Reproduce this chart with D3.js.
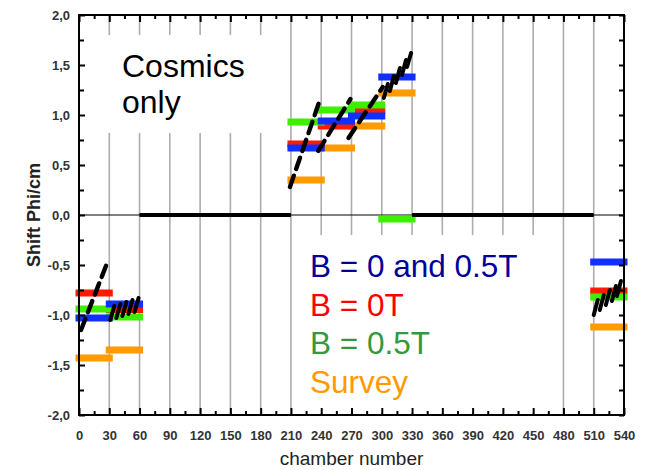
<!DOCTYPE html>
<html>
<head>
<meta charset="utf-8">
<script src="https://cdn.jsdelivr.net/npm/d3@7"></script>
<style>
  html, body { margin: 0; padding: 0; background: #fff; }
  svg { display: block; font-family: "Liberation Sans", Arial, sans-serif; }
</style>
</head>
<body>
<svg id="chart" width="648" height="470"></svg>
<script>
// ---- data ---------------------------------------------------------------
// chamber sectors (30 chambers each) that carry alignment results
const sectorStarts  = [0, 30, 210, 240, 270, 300, 510];
const sectorWidth   = 30;
const blueValues    = [-1.03, -0.89, 0.67, 0.94, 0.99, 1.38, -0.47];   // B = 0 and 0.5T
const redValues     = [-0.78, -0.945, 0.71, 0.89, 1.04, null, -0.76];  // B = 0T
const greenValues   = [-0.94, -1.02, 0.93, 1.05, 1.10, -0.04, -0.82];  // B = 0.5T
const surveyValues  = [-1.43, -1.35, 0.35, 0.67, 0.89, 1.22, -1.12];   // Survey

// cosmics-only shifts: chamber runs sitting at zero
const zeroRuns = [[60, 210], [330, 510]];
// cosmics-only shifts: sloped runs [chamberStart, shiftStart, chamberEnd, shiftEnd]
const slopeRuns = [
  [2, -1.15, 29, -0.45],
  [209, 0.28, 239, 1.16],
  [237, 0.64, 269, 1.16],
  [267, 0.77, 301, 1.28]
];
// cosmics-only shifts: short per-chamber strokes [chamberStart, shiftStart, chamberEnd, shiftEnd]
const strokeRuns = [
  [31, -1.05, 35, -0.91], [37, -1.03, 41, -0.89], [43, -1.01, 47, -0.87],
  [49, -0.99, 53, -0.85], [55, -0.97, 59, -0.83],
  [302, 1.17, 306, 1.31], [308, 1.24, 312, 1.39], [314, 1.32, 318, 1.47],
  [320, 1.40, 324, 1.55], [325, 1.48, 329, 1.62],
  [510, -1.00, 514, -0.85], [516, -0.95, 520, -0.80], [522, -0.90, 526, -0.75],
  [528, -0.86, 532, -0.71], [533, -0.81, 537, -0.66]
];

// axis ticks
const xTickValues = [0, 30, 60, 90, 120, 150, 180, 210, 240, 270, 300, 330, 360, 390, 420, 450, 480, 510, 540];
const xMinorTicks = [15, 45, 75, 105, 135, 165, 195, 225, 255, 285, 315, 345, 375, 405, 435, 465, 495, 525];
const yTickValues = [-2, -1.5, -1, -0.5, 0, 0.5, 1, 1.5, 2];
const yMinorTicks = [-1.75, -1.25, -0.75, -0.25, 0.25, 0.75, 1.25, 1.75];

const legendItems = [
  { label: "B = 0 and 0.5T", color: "#000099" },
  { label: "B = 0T",          color: "#ff0000" },
  { label: "B = 0.5T",        color: "#33993a" },
  { label: "Survey",          color: "#ff9900" }
];

// bar series drawn bottom to top
const barSeries = [
  { values: surveyValues, color: "#ff9a00" },
  { values: redValues,    color: "#ff1a00" },
  { values: greenValues,  color: "#3cf000" },
  { values: blueValues,   color: "#1030ff" }
];

// ---- layout -------------------------------------------------------------
const plotLeft = 79, plotRight = 624, plotTop = 15, plotBottom = 415;
const x = d3.scaleLinear().domain([0, 540]).range([plotLeft, plotRight]);
const y = d3.scaleLinear().domain([-2, 2]).range([plotBottom, plotTop]);

const svg = d3.select("#chart");

// vertical grid lines every 30 chambers
svg.append("g").selectAll("line")
  .data(xTickValues.slice(1, -1))
  .join("line")
  .attr("x1", d => x(d)).attr("x2", d => x(d))
  .attr("y1", plotTop).attr("y2", plotBottom)
  .attr("stroke", "#adadad").attr("stroke-width", 1.6);

// white panels behind the annotation texts
svg.append("rect").attr("x", 82).attr("y", 35).attr("width", 204).attr("height", 98).attr("fill", "#fff");
svg.append("rect").attr("x", 293).attr("y", 235).attr("width", 268).attr("height", 178).attr("fill", "#fff");

// zero reference line
svg.append("line")
  .attr("x1", plotLeft).attr("x2", plotRight)
  .attr("y1", y(0)).attr("y2", y(0))
  .attr("stroke", "#000").attr("stroke-width", 1.2);

// sector bars
barSeries.forEach(s => {
  svg.append("g").selectAll("line")
    .data(sectorStarts.map((c, i) => ({ c, v: s.values[i] })).filter(d => d.v != null))
    .join("line")
    .attr("x1", d => x(d.c)).attr("x2", d => x(d.c + sectorWidth))
    .attr("y1", d => y(d.v)).attr("y2", d => y(d.v))
    .attr("stroke", s.color).attr("stroke-width", 7).attr("stroke-linecap", "square");
});

// cosmics-only shifts
const cosmics = svg.append("g").attr("stroke", "#000").attr("fill", "none");
cosmics.selectAll("line.zero")
  .data(zeroRuns).join("line").attr("class", "zero")
  .attr("x1", d => x(d[0])).attr("x2", d => x(d[1]))
  .attr("y1", y(0)).attr("y2", y(0))
  .attr("stroke-width", 4);
cosmics.selectAll("line.slope")
  .data(slopeRuns).join("line").attr("class", "slope")
  .attr("x1", d => x(d[0])).attr("y1", d => y(d[1]))
  .attr("x2", d => x(d[2])).attr("y2", d => y(d[3]))
  .attr("stroke-width", 4.4).attr("stroke-linecap", "round")
  .attr("stroke-dasharray", "12,7");
cosmics.selectAll("line.stroke")
  .data(strokeRuns).join("line").attr("class", "stroke")
  .attr("x1", d => x(d[0])).attr("y1", d => y(d[1]))
  .attr("x2", d => x(d[2])).attr("y2", d => y(d[3]))
  .attr("stroke-width", 4).attr("stroke-linecap", "round");

// ---- axes ---------------------------------------------------------------
const fmt = d => d3.format(".1f")(d).replace(".", ",").replace("\u2212", "-");

function styleAxis(g) {
  g.select(".domain").remove();
  g.selectAll(".tick line").attr("stroke", "#000").attr("stroke-width", 2);
  g.selectAll(".tick text")
    .attr("fill", "#333").attr("font-weight", "bold").attr("font-size", 13)
    .attr("font-family", "'Liberation Sans', Arial, sans-serif");
}

svg.append("g").attr("transform", `translate(${plotLeft},0)`)
  .call(d3.axisLeft(y).tickValues(yTickValues).tickSize(-6).tickPadding(9).tickFormat(fmt))
  .call(styleAxis);
svg.append("g").attr("transform", `translate(${plotLeft},0)`)
  .call(d3.axisLeft(y).tickValues(yMinorTicks).tickSize(-5).tickFormat(""))
  .call(styleAxis);
svg.append("g").attr("transform", `translate(${plotRight},0)`)
  .call(d3.axisRight(y).tickValues(yTickValues.concat(yMinorTicks)).tickSize(-5).tickFormat(""))
  .call(styleAxis);

svg.append("g").attr("transform", `translate(0,${plotBottom})`)
  .call(d3.axisBottom(x).tickValues(xTickValues).tickSize(-7).tickPadding(16).tickFormat(d3.format("d")))
  .call(styleAxis);
svg.append("g").attr("transform", `translate(0,${plotBottom})`)
  .call(d3.axisBottom(x).tickValues(xMinorTicks).tickSize(-4).tickFormat(""))
  .call(styleAxis);
svg.append("g").attr("transform", `translate(0,${plotTop})`)
  .call(d3.axisTop(x).tickValues(xTickValues).tickSize(-7).tickFormat(""))
  .call(styleAxis);
svg.append("g").attr("transform", `translate(0,${plotTop})`)
  .call(d3.axisTop(x).tickValues(xMinorTicks).tickSize(-4).tickFormat(""))
  .call(styleAxis);

// frame
svg.append("rect")
  .attr("x", plotLeft).attr("y", plotTop)
  .attr("width", plotRight - plotLeft).attr("height", plotBottom - plotTop)
  .attr("fill", "none").attr("stroke", "#000").attr("stroke-width", 2);

// axis titles
svg.append("text")
  .attr("x", (plotLeft + plotRight) / 2).attr("y", 465)
  .attr("text-anchor", "middle").attr("font-size", 19).attr("fill", "#222")
  .text("chamber number");
svg.append("text")
  .attr("transform", `translate(40,${(plotTop + plotBottom) / 2}) rotate(-90)`)
  .attr("text-anchor", "middle").attr("font-size", 18).attr("font-weight", "bold").attr("fill", "#222")
  .text("Shift Phi/cm");

// annotation
const note = svg.append("text").attr("font-size", 32).attr("fill", "#000");
note.append("tspan").attr("x", 122).attr("y", 77).text("Cosmics");
note.append("tspan").attr("x", 122).attr("y", 113).text("only");

// legend
svg.append("g").selectAll("text")
  .data(legendItems)
  .join("text")
  .attr("x", 310).attr("y", (d, i) => 277 + i * 38.5)
  .attr("font-size", 31.5).attr("fill", d => d.color)
  .text(d => d.label);
</script>
</body>
</html>
